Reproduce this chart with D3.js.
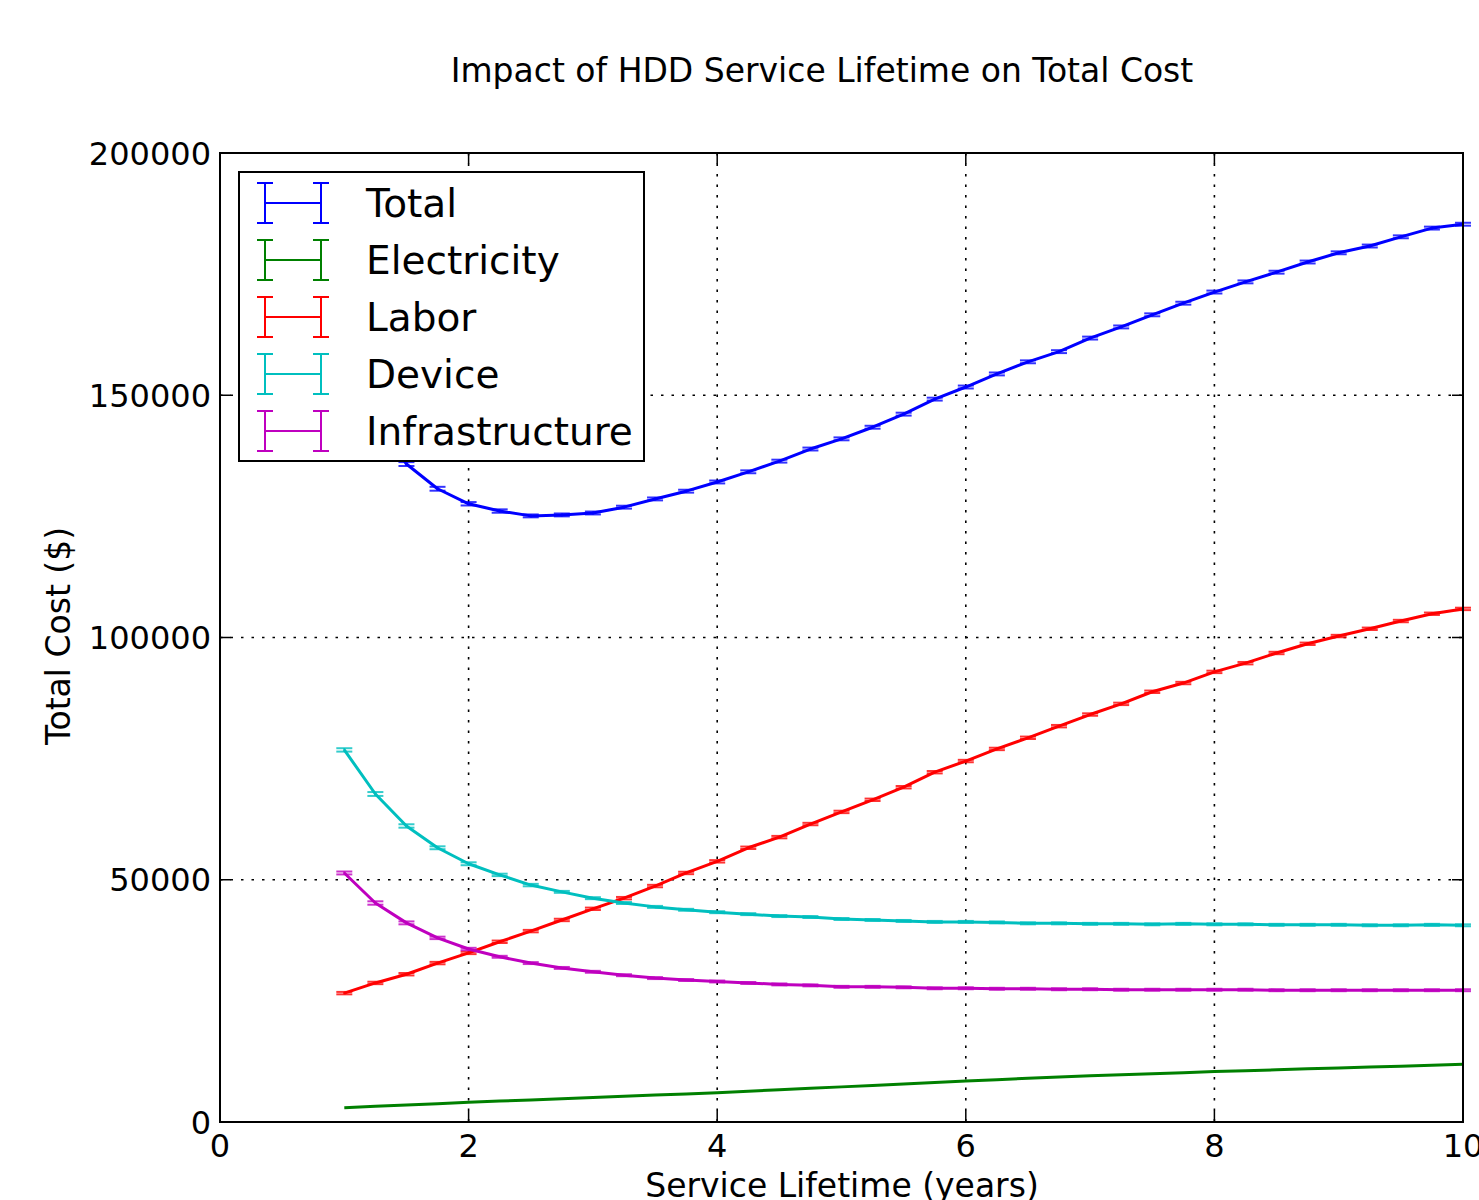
<!DOCTYPE html>
<html>
<head>
<meta charset="utf-8">
<script src="https://cdn.jsdelivr.net/npm/d3@7"></script>
<style>
  body { margin: 0; background: #fff; }
  svg { display: block; font-family: "DejaVu Sans", sans-serif; }
</style>
</head>
<body>
<div id="chart"></div>
<script>
    // service lifetime in years, one sample every quarter year
    var lifetimes = [1, 1.25, 1.5, 1.75, 2, 2.25, 2.5, 2.75, 3, 3.25, 3.5, 3.75, 4, 4.25, 4.5, 4.75, 5, 5.25, 5.5, 5.75,
                     6, 6.25, 6.5, 6.75, 7, 7.25, 7.5, 7.75, 8, 8.25, 8.5, 8.75, 9, 9.25, 9.5, 9.75, 10]

    var seriesNames = ["Total", "Electricity", "Labor", "Device", "Infrastructure"]
    var seriesColors = ["#0000ff", "#008000", "#ff0000", "#00bfbf", "#bf00bf"]

    var totalCost = [158500, 145500, 135800, 130700, 127600, 126100, 125100, 125300, 125700, 126900, 128600, 130200,
                     132100, 134200, 136400, 138900, 141000, 143400, 146100, 149200, 151700, 154400, 156900, 159000,
                     161800, 164100, 166600, 169000, 171300, 173400, 175400, 177500, 179400, 180800, 182700, 184500, 185300]
    var electricityCost = [2950, 3230, 3510, 3790, 4060, 4310, 4560, 4810, 5060, 5310, 5550, 5800, 6050, 6350, 6650,
                           6950, 7250, 7550, 7850, 8150, 8450, 8730, 9010, 9290, 9560, 9770, 9980, 10190, 10400, 10590,
                           10780, 10970, 11150, 11340, 11520, 11710, 11900]
    var laborCost = [26600, 28700, 30500, 32800, 34900, 37200, 39400, 41700, 44000, 46200, 48700, 51400, 53800, 56600,
                     58800, 61500, 64000, 66500, 69100, 72200, 74500, 77000, 79300, 81700, 84100, 86300, 88800, 90600,
                     92900, 94700, 96800, 98700, 100300, 101800, 103400, 104900, 105900]
    var deviceCost = [76800, 67700, 61100, 56600, 53300, 51000, 48900, 47500, 46200, 45200, 44400, 43800, 43300, 42900,
                      42500, 42300, 41900, 41700, 41500, 41300, 41300, 41200, 41000, 41000, 40900, 40900, 40800, 40900,
                      40800, 40800, 40700, 40700, 40700, 40600, 40600, 40700, 40600]
    var infrastructureCost = [51400, 45200, 41100, 38000, 35700, 34100, 32800, 31800, 31000, 30300, 29700, 29300, 29000,
                              28700, 28400, 28200, 27900, 27900, 27800, 27600, 27600, 27500, 27500, 27400, 27400, 27300,
                              27300, 27300, 27300, 27300, 27200, 27200, 27200, 27200, 27200, 27200, 27200]

    // standard deviation of each sample (error bars)
    var totalErr = [500, 450, 400, 400, 350, 350, 300, 300, 300, 300, 300, 300, 300, 300, 300, 300, 300, 300, 300, 300,
                    300, 300, 300, 300, 300, 300, 300, 300, 300, 300, 300, 300, 300, 300, 300, 300, 300]
    var electricityErr = [0, 0, 0, 0, 0, 0, 0, 0, 0, 0, 0, 0, 0, 0, 0, 0, 0, 0, 0, 0,
                          0, 0, 0, 0, 0, 0, 0, 0, 0, 0, 0, 0, 0, 0, 0, 0, 0]
    var laborErr = [250, 250, 250, 250, 250, 250, 250, 250, 250, 250, 250, 250, 250, 250, 250, 250, 250, 250, 250, 250,
                    250, 250, 250, 250, 250, 250, 250, 250, 250, 250, 250, 250, 250, 250, 250, 250, 250]
    var deviceErr = [350, 400, 350, 300, 300, 250, 250, 200, 200, 200, 200, 200, 200, 200, 200, 200, 200, 200, 200, 200,
                     200, 200, 200, 200, 200, 200, 200, 200, 200, 200, 200, 200, 200, 200, 200, 200, 200]
    var infrastructureErr = [300, 350, 300, 250, 250, 200, 200, 200, 200, 200, 200, 200, 200, 200, 200, 200, 200, 200, 200, 200,
                             200, 200, 200, 200, 200, 200, 200, 200, 200, 200, 200, 200, 200, 200, 200, 200, 200]

    var xTicks = [0, 2, 4, 6, 8, 10]
    var yTicks = [0, 50000, 100000, 150000, 200000]

    var seriesValues = [totalCost, electricityCost, laborCost, deviceCost, infrastructureCost]
    var seriesErrors = [totalErr, electricityErr, laborErr, deviceErr, infrastructureErr]

    var W = 1479, H = 1200
    var margin = {left: 220, top: 153}
    var plotW = 1463 - margin.left
    var plotH = 1122 - margin.top

    var svg = d3.select("#chart").append("svg")
        .attr("width", W)
        .attr("height", H)

    var x = d3.scaleLinear().domain([0, 10]).range([0, plotW])
    var y = d3.scaleLinear().domain([0, 200000]).range([plotH, 0])

    var g = svg.append("g").attr("transform", `translate(${margin.left},${margin.top})`)

    // grid
    g.append("g").selectAll("line")
        .data(xTicks.slice(1, -1))
        .join("line")
            .attr("x1", d => x(d)).attr("x2", d => x(d))
            .attr("y1", 0).attr("y2", plotH)
            .attr("stroke", "#000").attr("stroke-width", 1.6)
            .attr("stroke-dasharray", "2.5,8")
    g.append("g").selectAll("line")
        .data(yTicks.slice(1, -1))
        .join("line")
            .attr("y1", d => y(d)).attr("y2", d => y(d))
            .attr("x1", 0).attr("x2", plotW)
            .attr("stroke", "#000").attr("stroke-width", 1.6)
            .attr("stroke-dasharray", "2.5,8")

    // series: line + error bars
    var line = d3.line()
        .x((d, i) => x(lifetimes[i]))
        .y(d => y(d))

    seriesValues.forEach(function(vals, s) {
        var color = seriesColors[s]
        var errs = seriesErrors[s]
        var sg = g.append("g")
        sg.append("path")
            .datum(vals)
            .attr("d", line)
            .attr("fill", "none")
            .attr("stroke", color)
            .attr("stroke-width", 3)
            .attr("stroke-linejoin", "round")

        var bars = sg.append("g").selectAll("g")
            .data(vals.map((v, i) => ({x: lifetimes[i], v: v, e: errs[i]})))
            .join("g")
        bars.append("line")
            .attr("x1", d => x(d.x)).attr("x2", d => x(d.x))
            .attr("y1", d => y(d.v - d.e)).attr("y2", d => y(d.v + d.e))
            .attr("stroke", color).attr("stroke-width", 2)
        if (s != 1) {
            ;[-1, 1].forEach(function(sign) {
                bars.append("line")
                    .attr("x1", d => x(d.x) - 8).attr("x2", d => x(d.x) + 8)
                    .attr("y1", d => y(d.v + sign*d.e)).attr("y2", d => y(d.v + sign*d.e))
                    .attr("stroke", color).attr("stroke-width", 2).attr("stroke-opacity", 0.8)
            })
        }
    })

    // frame and inward ticks on all four sides
    g.append("rect")
        .attr("width", plotW).attr("height", plotH)
        .attr("fill", "none").attr("stroke", "#000").attr("stroke-width", 2)

    var tickLen = 11
    xTicks.forEach(function(t) {
        g.append("line").attr("x1", x(t)).attr("x2", x(t)).attr("y1", plotH).attr("y2", plotH - tickLen)
            .attr("stroke", "#000").attr("stroke-width", 1.5)
        g.append("line").attr("x1", x(t)).attr("x2", x(t)).attr("y1", 0).attr("y2", tickLen)
            .attr("stroke", "#000").attr("stroke-width", 1.5)
    })
    yTicks.forEach(function(t) {
        g.append("line").attr("y1", y(t)).attr("y2", y(t)).attr("x1", 0).attr("x2", tickLen)
            .attr("stroke", "#000").attr("stroke-width", 1.5)
        g.append("line").attr("y1", y(t)).attr("y2", y(t)).attr("x1", plotW).attr("x2", plotW - tickLen)
            .attr("stroke", "#000").attr("stroke-width", 1.5)
    })

    // tick labels
    g.append("g").selectAll("text")
        .data(xTicks)
        .join("text")
            .attr("x", d => x(d))
            .attr("y", plotH + 35)
            .attr("text-anchor", "middle")
            .attr("font-size", 32)
            .text(d => d)
    g.append("g").selectAll("text")
        .data(yTicks)
        .join("text")
            .attr("x", -9)
            .attr("y", d => y(d))
            .attr("dy", "0.36em")
            .attr("text-anchor", "end")
            .attr("font-size", 32)
            .text(d => d)

    // titles
    svg.append("text")
        .attr("x", 822)
        .attr("y", 82)
        .attr("text-anchor", "middle")
        .attr("font-size", 33)
        .text("Impact of HDD Service Lifetime on Total Cost")
    svg.append("text")
        .attr("x", 842)
        .attr("y", 1197)
        .attr("text-anchor", "middle")
        .attr("font-size", 33)
        .text("Service Lifetime (years)")
    svg.append("text")
        .attr("transform", `translate(70,636) rotate(-90)`)
        .attr("text-anchor", "middle")
        .attr("font-size", 33)
        .text("Total Cost ($)")

    // legend
    var legend = svg.append("g").attr("transform", "translate(239,172)")
    legend.append("rect")
        .attr("width", 405).attr("height", 289)
        .attr("fill", "#fff").attr("stroke", "#000").attr("stroke-width", 2)
    seriesNames.forEach(function(name, i) {
        var cy = 31 + i*57
        var c = seriesColors[i]
        var row = legend.append("g")
        row.append("line").attr("x1", 26).attr("x2", 82).attr("y1", cy).attr("y2", cy)
            .attr("stroke", c).attr("stroke-width", 2)
        ;[26, 82].forEach(function(px) {
            row.append("line").attr("x1", px).attr("x2", px).attr("y1", cy - 20).attr("y2", cy + 20)
                .attr("stroke", c).attr("stroke-width", 2)
            row.append("line").attr("x1", px - 8).attr("x2", px + 8).attr("y1", cy - 20).attr("y2", cy - 20)
                .attr("stroke", c).attr("stroke-width", 2)
            row.append("line").attr("x1", px - 8).attr("x2", px + 8).attr("y1", cy + 20).attr("y2", cy + 20)
                .attr("stroke", c).attr("stroke-width", 2)
        })
        row.append("text")
            .attr("x", 127)
            .attr("y", cy)
            .attr("dy", "0.36em")
            .attr("font-size", 39)
            .text(name)
    })
</script>
</body>
</html>
